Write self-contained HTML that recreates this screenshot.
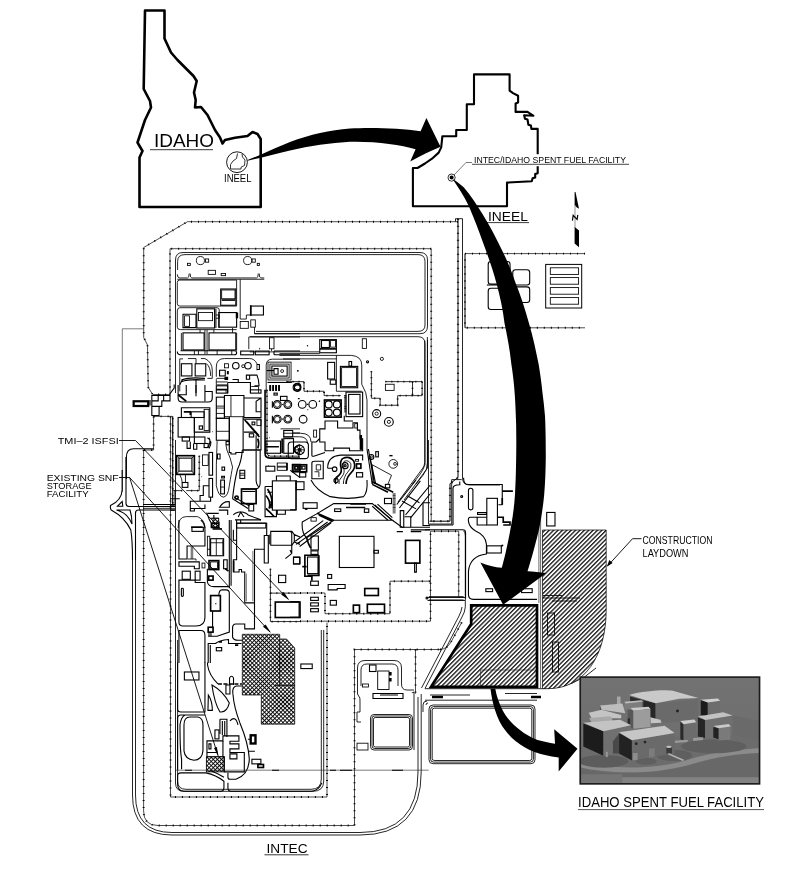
<!DOCTYPE html>
<html><head><meta charset="utf-8"><title>INTEC Idaho Spent Fuel Facility</title>
<style>
html,body{margin:0;padding:0;background:#fff;}
body{width:801px;height:880px;overflow:hidden;font-family:"Liberation Sans",sans-serif;}
svg{display:block;}
.t{font-family:"Liberation Sans",sans-serif;fill:#000;opacity:0.99;}
.ol{fill:none;stroke:#000;stroke-width:2.6;stroke-linejoin:round;}
.l{fill:none;stroke:#000;stroke-width:0.85;}
.l2{fill:none;stroke:#000;stroke-width:1.1;}
.l3{fill:none;stroke:#000;stroke-width:1.65;}
.th{fill:none;stroke:#222;stroke-width:0.6;}
.f{fill:none;stroke:#000;stroke-width:0.8;}
.fd{fill:none;stroke:#000;stroke-width:2;stroke-dasharray:1 6;}
.b{fill:#fff;stroke:#000;stroke-width:0.9;}
.bk{fill:#000;stroke:none;}
</style></head><body>
<svg width="801" height="880" viewBox="0 0 801 880">
<defs>
<pattern id="hat" width="3.1" height="3.1" patternUnits="userSpaceOnUse" patternTransform="rotate(-45)">
<rect width="3.1" height="3.1" fill="#fff"/><line x1="0" y1="0.7" x2="3.1" y2="0.7" stroke="#000" stroke-width="1.2"/>
</pattern>
<pattern id="xhat" width="2.9" height="2.9" patternUnits="userSpaceOnUse" patternTransform="rotate(45)">
<rect width="2.9" height="2.9" fill="#fff"/><path d="M0 0.5H2.9M0.5 0V2.9" stroke="#000" stroke-width="0.92"/>
</pattern>
</defs>
<rect width="801" height="880" fill="#fff"/>

<g id="site">
<path class="f" d="M458 221.7H187.5L143.7 247.5V337.5L147.5 345L148.2 387.3L152.7 394.5H170" style="stroke-width:0.7"/><path class="fd" d="M458 221.7H187.5L143.7 247.5V337.5L147.5 345L148.2 387.3L152.7 394.5H170" style="stroke-width:1.9;stroke-dasharray:1 6"/>
<path class="f" d="M458 218.7V477.5L450 483.7V521.2H429.5" style="stroke-width:1.0"/><path class="fd" d="M458 218.7V477.5L450 483.7V521.2H429.5" style="stroke-width:2.2;stroke-dasharray:1 6"/>
<path class="l" d="M462.5 218.7V478Q462.5 485 470 485H500"/>
<path class="l" d="M455.5 218.7V221.7M455.5 218.7H462.5"/>
<path class="f" d="M170 394.5V248.7H431.2V521.2" style="stroke-width:0.7"/><path class="fd" d="M170 394.5V248.7H431.2V521.2" style="stroke-width:1.9;stroke-dasharray:1 6"/>
<path class="l" d="M183 252.5H420Q427.5 252.5 427.5 260V326Q427.5 333.7 420 333.7H254.5"/>
<path class="l" d="M175.5 393V260Q175.5 252.5 183 252.5"/>
<path class="l" d="M185 254.6H418Q425 254.6 425 261.5V325Q425 331.4 418 331.4H256"/>
<path class="l" d="M177.6 270V261.5Q177.6 254.6 185 254.6"/>
<path class="l" d="M250 336.7H418Q425 336.7 425 344V465L398 502"/>
<path class="l" d="M427.5 340V468L404 500"/>
<path class="th" d="M143.7 328.8H122.3V492"/>
<path class="f" d="M585 253.6H465V327.8H585" style="stroke-width:0.7"/><path class="fd" d="M585 253.6H465V327.8H585" style="stroke-width:1.9;stroke-dasharray:1 6"/>
<path class="l" d="M465 253.6V327.8" style="stroke-width:0.5"/>
</g>
<g id="tA">
<path class="l" d="M177.31 274.37 Q177.31 277.95 179.75 277.95 H187.55 Q189.17 277.95 189.17 273.56 M190.15 273.56 Q190.15 277.95 191.77 277.95 H256.61 Q258.24 277.95 258.24 273.56 M259.21 273.56 Q259.21 277.95 260.84 277.95 H264.25 " />
<path class="l" d="M177.31 279.25 H264.25 " />
<circle class="l" cx="200.39" cy="260.56" r="4.06" />
<rect class="l" x="205.42" y="258.94" width="3.25" height="3.25" rx="0.0" />
<rect class="l" x="187.55" y="263.32" width="2.76" height="2.11" rx="0.0" />
<circle class="l" cx="247.67" cy="260.56" r="4.06" />
<rect class="l" x="252.06" y="258.94" width="3.25" height="3.25" rx="0.0" />
<rect class="l" x="257.26" y="263.32" width="2.11" height="2.11" rx="0.0" />
<rect class="l" x="208.19" y="270.31" width="7.31" height="4.06" rx="0.0" />
<rect class="l" x="221.19" y="273.56" width="4.39" height="2.11" rx="0.0" />
<path class="l" d="M236.62 280.06 V306.06 H179.75 Q177.31 306.06 177.31 303.62 V282.5 Q177.31 280.06 179.75 280.06 Z" />
<rect class="l2" x="220.7" y="289.0" width="15.11" height="16.25" rx="0.0" />
<rect class="l" x="221.67" y="289.97" width="13.32" height="8.77" rx="0.0" />
<path class="l3" d="M221.67 300.05 H235.0 " />
<path class="l" d="M240.2 279.25 V319.06 H246.37 V315.0 H250.44 " />
<rect class="l2" x="250.76" y="306.06" width="12.67" height="8.94" rx="0.0" />
<path class="l3" d="M250.76 305.25 V315.81 " />
<rect class="l" x="240.2" y="321.5" width="8.12" height="6.82" rx="0.0" />
<rect class="l" x="250.76" y="319.87" width="4.55" height="7.31" rx="0.0" />
<path class="l" d="M254.5 327.19 V333.69 H300.0 " />
<path class="l" d="M300.0 336.94 H248.81 V349.12 " />
<path class="l" d="M179.75 307.69 H217.12 Q219.24 307.69 219.24 310.12 V328.0 M177.31 310.94 Q177.31 307.69 179.75 307.69 M177.31 310.94 V327.19 Q177.31 329.62 180.56 329.62 H185.44 " />
<path class="l2" d="M183.0 314.19 H196.0 V327.67 H183.0 Z" />
<rect class="l" x="184.62" y="315.81" width="4.87" height="10.56" rx="0.0" />
<rect class="l2" x="196.81" y="308.82" width="17.87" height="19.17" rx="0.0" />
<rect class="l" x="198.44" y="312.56" width="14.14" height="8.12" rx="0.0" />
<path class="l" d="M214.69 308.82 V328.0 M215.99 308.82 V328.0 " />
<rect class="l2" x="218.75" y="312.56" width="17.87" height="14.62" rx="0.0" />
<path class="l3" d="M236.95 312.56 V318.25 " style="stroke-width:2.4"/>
<path class="l" d="M215.99 315.0 H219.24 V318.25 H215.99 " />
<rect class="l2" x="183.0" y="332.87" width="21.12" height="17.06" rx="0.0" />
<rect class="l2" x="209.0" y="332.87" width="26.81" height="17.06" rx="0.0" />
<path class="l" d="M204.94 329.62 V354.0 M207.05 329.62 V354.0 M185.44 329.62 H236.62 M200.06 329.62 V332.87 M213.87 329.62 V332.87 M232.56 328.0 V332.87 " />
<path class="l2" d="M177.31 351.56 Q177.31 354.81 180.56 354.81 H234.19 Q236.62 354.81 236.62 352.7 Q236.62 350.75 234.19 350.75 H180.56 " />
<path class="l" d="M194.37 350.75 V354.81 M198.44 350.75 V354.81 M217.12 350.75 V354.81 M231.75 350.75 V354.81 " />
<path class="l" d="M181.37 332.87 V350.75 M236.62 332.87 V350.75 " />
<rect class="l2" x="240.69" y="351.07" width="13.0" height="3.74" rx="0.0" />
<rect class="l2" x="255.31" y="351.07" width="13.81" height="3.74" rx="0.0" />
<path class="l2" d="M274.0 351.07 H300.0 M274.0 354.81 H300.0 M274.0 351.07 V354.81 " />
<rect class="l" x="269.45" y="337.75" width="4.55" height="11.05" rx="0.0" />
<path class="l" d="M271.56 348.8 V351.07 " />
<path class="bk" d="M259.05 347.5 L260.35 348.8 L259.37 349.77 Z" />
<path class="l" d="M179.75 358.87 V391.37 M179.75 358.87 H183.0 M187.87 358.55 H196.0 V363.75 M200.87 358.55 H204.94 Q212.25 362.12 212.25 370.25 V378.37 H207.37 " />
<rect class="l2" x="181.37" y="363.75" width="10.56" height="12.19" rx="0.0" />
<rect class="l2" x="195.19" y="363.75" width="10.56" height="12.19" rx="0.0" />
<path class="l" d="M206.56 363.75 Q210.62 367.0 210.62 375.93 " />
<path class="l2" d="M181.37 380.0 Q189.5 376.75 204.94 378.37 M181.37 381.62 Q189.5 378.7 204.94 380.0 M196.0 380.0 V393.0 M179.75 384.87 L182.19 380.0 " />
<path class="l" d="M216.31 376.75 V367.0 Q216.31 358.55 224.44 358.55 H249.62 Q254.5 358.55 256.94 363.75 V370.25 M216.31 378.37 H227.69 " />
<rect class="l" x="224.44" y="363.75" width="4.06" height="4.06" rx="0.0" />
<circle class="l2" cx="235.81" cy="365.7" r="3.25" />
<circle class="l2" cx="248.0" cy="365.7" r="3.25" />
<circle class="l" cx="243.12" cy="366.18" r="1.46" />
<rect class="l2" x="219.56" y="370.25" width="5.69" height="5.69" rx="0.0" />
<rect class="bk" x="226.87" y="371.06" width="1.95" height="3.25" rx="0.0" />
<rect class="bk" x="224.44" y="376.75" width="3.74" height="3.25" rx="0.0" />
<path class="l2" d="M246.37 375.12 H249.62 V379.18 H246.37 ZM249.62 375.12 H256.94 Q259.05 380.0 259.05 385.68 H254.5 M232.56 379.51 H238.25 V382.43 M256.94 364.56 H259.37 V369.43 H256.94 " />
<path class="l" d="M216.31 379.18 V384.87 H227.69 M216.31 381.95 H227.69 " />
<path class="l2" d="M227.69 382.43 H250.44 V393.0 M227.69 382.43 V393.0 " />
<path class="l" d="M216.31 389.75 H226.06 V393.0 M251.25 386.5 H258.56 V393.0 " />
<path class="l" d="M266.2 393.0 V365.37 Q266.2 359.2 272.37 359.2 H300.0 " />
<rect class="l" x="267.99" y="362.12" width="23.07" height="17.87" rx="0.0" />
<rect class="l" x="269.94" y="364.07" width="19.17" height="13.97" rx="0.0" />
<rect class="l2" x="271.88" y="366.02" width="15.27" height="10.07" rx="0.0" />
<path class="l2" d="M274.0 368.62 H278.06 V374.31 H274.0 Z" />
<circle class="l" cx="282.12" cy="371.06" r="1.46" />
<path class="l2" d="M266.69 370.57 H274.0 " />
<rect class="bk" x="269.45" y="385.2" width="1.62" height="5.85" rx="0.0" />
<rect class="bk" x="272.37" y="385.2" width="1.62" height="5.85" rx="0.0" />
<rect class="bk" x="275.3" y="385.2" width="1.62" height="5.85" rx="0.0" />
<rect class="bk" x="278.22" y="385.2" width="1.62" height="5.85" rx="0.0" />
<path class="l2" d="M267.5 382.43 H291.87 " />
<circle class="l2" cx="297.56" cy="388.12" r="3.25" />
<circle class="bk" cx="297.56" cy="370.57" r="0.49" />
</g>
<g id="tB">
<rect class="l2" x="319.75" y="339.63" width="16.63" height="13.13" rx="0.0" />
<rect class="l2" x="321.5" y="340.5" width="7.88" height="7.0" rx="0.0" />
<rect class="l" x="330.6" y="340.5" width="4.9" height="6.65" rx="0.0" />
<path class="l3" d="M319.75 348.9 H336.38 " />
<rect class="l" x="362.28" y="338.75" width="4.2" height="9.63" rx="0.0" />
<circle class="bk" cx="307.5" cy="345.75" r="0.7" />
<path class="l" d="M249.75 351.88 H319.75 M279.5 353.63 H319.75 " />
<path class="l" d="M279.5 355.38 H351.25 Q361.75 356.25 361.75 365.0 V384.25 Q367.0 393.0 367.0 400.0 V449.01 " />
<path class="l" d="M336.38 355.38 V391.25 H361.75 M283.0 358.88 H336.38 " />
<rect class="l2" x="327.63" y="362.38" width="7.0" height="16.63" rx="0.0" />
<rect class="l2" x="330.25" y="379.88" width="5.6" height="4.38" rx="0.0" />
<circle class="bk" cx="297.88" cy="370.78" r="0.88" />
<rect class="l2" x="340.4" y="366.4" width="17.33" height="21.35" rx="0.0" />
<rect class="l" x="341.63" y="367.63" width="14.88" height="18.9" rx="0.0" />
<rect class="l2" x="348.98" y="361.5" width="2.63" height="4.55" rx="0.0" />
<rect class="l2" x="346.0" y="392.13" width="16.63" height="24.5" rx="0.0" />
<rect class="l2" x="348.63" y="394.4" width="11.38" height="19.6" rx="0.0" />
<path class="l3" d="M345.3 395.1 V412.25 " style="stroke-width:2.6;stroke-dasharray:0.6 0.5"/>
<rect class="l3" x="324.48" y="400.0" width="16.63" height="17.15" rx="0.0" />
<circle class="l2" cx="328.68" cy="404.38" r="3.5" />
<circle class="l2" cx="336.9" cy="404.38" r="3.5" />
<circle class="l2" cx="328.68" cy="412.6" r="3.5" />
<circle class="l2" cx="336.9" cy="412.6" r="3.5" />
<circle class="l2" cx="296.65" cy="387.4" r="3.5" />
<circle class="l2" cx="302.25" cy="404.38" r="3.85" />
<circle class="l2" cx="312.75" cy="404.38" r="3.85" />
<circle class="l2" cx="303.13" cy="419.25" r="3.85" />
<path class="l2" d="M306.98 404.38 H308.2 M318.88 401.75 L319.93 400.7 M297.88 398.6 H299.63 M307.5 409.63 H308.2 " />
<path class="f" d="M286.5 381.63 H304.0 V391.25 H324.13 V395.63 H340.75 " />
<path class="fd" d="M286.5 381.63 H304.0 V391.25 H324.13 V395.63 H340.75 " style="stroke-width:1.8;stroke-dasharray:1 5"/>
<path class="l2" d="M319.75 428.88 H325.0 V421.0 H337.6 V428.0 H353.0 V422.75 H357.38 V430.11 H360.0 V438.86 H362.63 V450.76 H349.5 V448.13 H333.75 V450.76 H325.0 V442.01 H319.75 Z" />
<path class="l3" d="M360.88 435.01 V449.88 " style="stroke-width:2.4"/>
<rect class="l" x="313.63" y="430.11" width="2.98" height="7.0" rx="0.0" />
<path class="l2" d="M344.25 415.75 V421.0 H353.0 " />
<rect class="l" x="354.75" y="423.63" width="2.63" height="4.38" rx="0.0" />
<path class="l2" d="M319.75 438.51 L316.25 442.01 H311.88 V455.13 Q311.88 456.88 314.5 456.01 L325.0 452.51 " />
<path class="f" d="M371.38 371.13 V398.25 H380.13 V405.25 H397.63 V395.63 H422.13 M385.38 381.63 H422.13 M412.51 381.63 V395.63 M422.13 381.63 V395.63 " />
<path class="fd" d="M371.38 371.13 V398.25 H380.13 V405.25 H397.63 V395.63 H422.13 M385.38 381.63 H422.13 M412.51 381.63 V395.63 M422.13 381.63 V395.63 " style="stroke-width:1.8;stroke-dasharray:1 5"/>
<rect class="l" x="385.38" y="384.25" width="8.75" height="6.13" rx="0.0" />
<circle class="l2" cx="376.63" cy="413.65" r="4.03" />
<circle class="l" cx="376.63" cy="413.65" r="1.58" />
<circle class="l2" cx="388.88" cy="421.88" r="4.38" />
<circle class="l" cx="388.88" cy="421.88" r="1.58" />
<circle class="l" cx="393.26" cy="463.88" r="4.38" />
<circle class="l" cx="395.01" cy="463.88" r="1.4" />
<rect class="bk" x="389.4" y="454.96" width="3.15" height="1.4" rx="0.0" />
<circle class="l2" cx="367.53" cy="361.85" r="1.05" />
<circle class="l" cx="381.88" cy="358.88" r="1.58" />
<rect class="l2" x="375.75" y="451.63" width="2.63" height="5.25" rx="0.0" />
<circle class="l2" cx="371.38" cy="456.88" r="2.45" />
<circle class="l" cx="371.38" cy="456.88" r="1.05" />
<path class="l2" d="M367.0 449.01 L372.25 484.01 M368.4 449.01 L374.35 484.01 M369.8 456.01 L375.75 484.01 " />
<path class="l" d="M372.25 464.76 L391.51 475.26 L388.0 484.01 M372.25 464.76 V484.01 " />
<path class="l" d="M427.38 337.0 V463.01 Q427.38 470.01 423.01 475.26 L416.01 484.01 M424.76 340.5 V462.13 Q424.76 468.26 420.38 473.86 L412.51 484.01 " />
<path class="l" d="M283.0 433.26 H300.5 Q311.0 433.26 311.0 442.01 M283.0 436.76 H299.63 Q307.5 436.76 307.5 443.76 " />
<rect class="l2" x="288.25" y="442.01" width="20.13" height="16.63" rx="3.15" />
<circle class="l2" cx="299.63" cy="449.88" r="4.73" />
<circle class="l2" cx="299.63" cy="449.88" r="1.4" />
<path class="l" d="M299.63 445.16 V454.61 M294.9 449.88 H304.35 M296.3 446.56 L302.95 453.21 M302.95 446.56 L296.3 453.21 " />
<rect class="l3" x="292.63" y="464.76" width="14.0" height="7.0" rx="0.0" />
<rect class="l2" x="294.38" y="466.16" width="2.98" height="2.98" rx="0.0" />
<rect class="l2" x="298.23" y="466.16" width="2.98" height="2.98" rx="0.0" />
<rect class="l2" x="302.08" y="466.16" width="2.98" height="2.98" rx="0.0" />
<rect class="l2" x="299.63" y="472.63" width="6.13" height="4.38" rx="0.0" />
<path class="l2" d="M311.88 463.01 Q311.88 461.26 314.5 461.26 H323.25 V478.76 H311.88 Z" />
<path class="l" d="M316.25 464.76 H320.63 V470.01 H316.25 ZM314.5 471.76 H318.88 V477.01 " />
<path class="l2" d="M327.63 468.26 Q327.63 456.01 340.75 455.13 H362.63 V460.38 M327.63 468.26 H332.0 " />
<path class="l3" d="M342.5 458.63 Q349.5 455.13 353.88 461.26 Q356.5 468.26 350.38 473.51 Q346.0 478.76 346.0 484.01 M335.85 484.01 Q333.75 478.76 339.0 475.26 Q342.5 471.76 340.75 466.51 Q339.88 461.26 342.5 458.63 " />
<path class="l" d="M344.25 461.26 Q348.63 459.51 350.9 463.88 Q352.13 468.26 347.75 472.11 Q343.38 477.01 343.38 484.01 M339.0 484.01 Q338.13 480.51 341.63 477.01 Q345.65 472.63 343.38 467.38 Q342.5 463.01 344.25 461.26 " />
<circle class="l2" cx="345.13" cy="465.63" r="2.98" />
<circle class="l2" cx="345.13" cy="465.63" r="1.05" />
<circle class="l2" cx="334.63" cy="469.13" r="2.28" />
<circle class="l2" cx="336.03" cy="480.51" r="2.1" />
<rect class="l3" x="356.5" y="463.88" width="4.38" height="4.38" rx="0.0" />
<rect class="l2" x="356.5" y="472.63" width="6.13" height="4.38" rx="0.0" />
<rect class="l" x="355.63" y="459.51" width="2.98" height="1.75" rx="0.0" />
</g>
<g id="tC">
<path class="l2" d="M178.12 385.0 V398.0 Q178.12 402.06 182.19 402.06 H208.19 Q212.25 402.06 212.25 398.0 V391.5 H204.94 V385.0 M186.25 385.0 V394.75 H178.12 M196.0 385.0 V396.37 M204.94 391.5 V401.25 " />
<path class="l3" d="M178.12 394.75 L186.25 401.25 " />
<rect class="l2" x="216.31" y="385.81" width="11.37" height="7.31" rx="0.0" />
<path class="l3" d="M216.31 389.55 H227.69 " />
<rect class="l2" x="250.44" y="389.87" width="10.56" height="3.25" rx="0.0" />
<path class="l2" d="M181.37 407.75 H209.81 V432.12 H194.37 V417.5 H181.37 Z" />
<rect class="l2" x="178.12" y="417.5" width="16.25" height="19.5" rx="0.0" />
<rect class="l2" x="191.12" y="411.81" width="13.0" height="5.69" rx="0.0" />
<rect class="l" x="204.12" y="409.37" width="4.87" height="21.12" rx="0.0" />
<rect class="l2" x="199.25" y="425.95" width="3.25" height="3.25" rx="0.0" />
<path class="l3" d="M183.81 411.81 L190.31 411.81 L190.31 415.06 " />
<rect class="l2" x="182.19" y="437.0" width="7.31" height="4.06" rx="0.0" />
<rect class="l2" x="194.37" y="437.0" width="10.56" height="6.5" rx="0.0" />
<path class="l2" d="M207.37 437.81 Q213.55 441.06 209.0 448.37 M209.0 437.81 Q211.44 441.87 207.7 447.56 M187.06 441.87 V448.37 H190.31 V441.87 M193.56 443.5 V449.19 H196.81 V443.5 " />
<rect class="l2" x="204.12" y="443.5" width="4.06" height="4.06" rx="0.0" />
<circle class="bk" cx="212.57" cy="431.8" r="0.49" />
<rect class="l2" x="216.31" y="397.19" width="8.12" height="21.12" rx="0.0" />
<path class="l" d="M216.31 406.12 H224.44 M216.31 408.07 H224.44 M216.31 413.44 H224.44 " />
<path class="l2" d="M224.44 395.56 H243.94 V416.69 H243.12 V452.44 H235.81 V454.06 H230.94 V452.44 H229.31 V416.69 H224.44 Z" />
<path class="l" d="M230.94 395.56 V416.69 M229.31 416.69 H243.94 " />
<path class="l2" d="M243.94 398.0 H261.0 V417.5 H243.94 M261.0 398.0 L256.12 401.25 V411.81 H261.0 " />
<rect class="l2" x="216.31" y="418.31" width="13.0" height="21.94" rx="0.0" />
<path class="l" d="M216.31 431.31 H229.31 " />
<rect class="l2" x="226.06" y="441.55" width="3.25" height="3.25" rx="0.0" />
<path class="l2" d="M243.12 419.12 H261.0 V450.0 H243.12 M243.94 432.12 H256.12 M256.12 435.37 V450.0 " />
<path class="l3" d="M244.75 419.94 L259.37 437.0 M246.37 421.56 L258.56 435.37 M248.0 423.19 L251.25 427.25 " />
<rect class="l2" x="252.06" y="422.05" width="2.76" height="2.76" rx="0.0" />
<rect class="l2" x="249.3" y="433.75" width="4.39" height="3.25" rx="0.0" />
<rect class="l" x="256.94" y="419.94" width="4.06" height="5.69" rx="0.0" />
<path class="l3" d="M257.75 438.62 Q259.7 443.5 257.75 448.37 " />
<path class="l" d="M217.12 441.06 Q215.99 466.25 216.31 485.75 Q218.75 497.12 223.62 497.12 Q228.17 496.31 229.31 485.75 Q231.42 472.75 232.56 467.06 Q230.45 457.31 226.87 450.0 L226.06 445.12 " />
<rect class="l2" x="217.45" y="454.06" width="2.6" height="4.87" rx="0.0" />
<rect class="l2" x="222.0" y="467.06" width="2.6" height="3.25" rx="0.0" />
<rect class="l2" x="220.7" y="480.06" width="3.74" height="13.81" rx="0.0" />
<path class="l" d="M220.7 487.05 H224.44 " />
<rect class="l2" x="221.67" y="476.32" width="2.76" height="1.62" rx="0.0" />
<path class="l2" d="M242.31 450.0 H260.19 V482.5 Q260.19 488.18 256.12 489.0 H242.31 M242.31 450.0 Q241.5 461.37 237.44 469.5 Q234.19 482.5 232.56 498.75 M256.12 450.81 V480.87 Q256.94 485.75 258.56 486.56 " />
<rect class="l2" x="239.87" y="470.31" width="4.87" height="8.12" rx="0.0" />
<path class="l" d="M239.87 473.24 H244.75 M239.87 475.19 H244.75 " />
<rect class="l3" x="241.5" y="489.0" width="14.62" height="14.62" rx="0.0" />
<path class="l2" d="M242.31 491.43 H255.31 " />
<circle class="l3" cx="236.62" cy="497.61" r="1.62" />
<rect class="l2" x="248.81" y="504.43" width="4.87" height="6.5" rx="0.0" />
<path class="l2" d="M232.56 498.75 L248.0 508.5 M234.19 497.12 L249.62 506.06 " />
<rect class="l3" x="176.5" y="455.69" width="17.87" height="18.69" rx="0.0" />
<rect class="l2" x="178.94" y="458.12" width="13.0" height="13.0" rx="0.0" />
<path class="l" d="M176.5 455.69 L178.94 458.12 M194.37 455.69 L191.94 458.12 M176.5 474.37 L178.94 471.12 M194.37 474.37 L191.94 471.12 " />
<rect class="l" x="202.5" y="454.87" width="5.69" height="10.56" rx="0.0" />
<rect class="l2" x="209.0" y="452.44" width="3.57" height="22.75" rx="0.0" />
<rect class="l2" x="209.0" y="478.44" width="3.57" height="18.69" rx="0.0" />
<path class="f" d="M199.25 455.69 V490.62 H186.25 M182.19 490.62 H173.25 " />
<path class="fd" d="M199.25 455.69 V490.62 H186.25 M182.19 490.62 H173.25 " style="stroke-width:1.8;stroke-dasharray:1 5"/>
<rect class="l2" x="182.19" y="482.5" width="5.69" height="4.87" rx="0.0" />
<path class="l" d="M185.44 474.37 V482.5 M179.75 474.37 Q182.19 479.25 182.19 482.5 " />
<circle class="bk" cx="201.69" cy="476.81" r="0.49" />
<path class="l2" d="M200.06 501.18 V495.5 H203.31 V485.75 H209.0 M210.62 497.12 V501.18 H190.31 V508.5 H204.94 V504.43 M190.31 508.5 V510.93 H194.37 V508.5 " />
<path class="l2" d="M219.56 507.2 Q223.62 500.86 229.31 501.67 V507.2 Z" />
<path class="l2" d="M218.75 510.12 H227.69 V515.0 " />
<path class="l3" d="M265.06 389.87 V453.25 Q265.06 458.12 269.94 458.12 H300.0 " />
<path class="f" d="M267.01 389.87 V452.44 Q267.01 456.17 270.42 456.17 H300.0 " />
<path class="fd" d="M267.01 389.87 V452.44 Q267.01 456.17 270.42 456.17 H300.0 " style="stroke-width:1.8;stroke-dasharray:1 5"/>
<circle class="l2" cx="277.25" cy="404.5" r="3.9" />
<circle class="l" cx="277.25" cy="404.5" r="2.76" />
<circle class="l2" cx="287.81" cy="404.5" r="3.9" />
<circle class="l" cx="287.81" cy="404.5" r="2.76" />
<circle class="l2" cx="277.25" cy="419.12" r="3.9" />
<circle class="l" cx="277.25" cy="419.12" r="2.76" />
<circle class="l2" cx="287.81" cy="419.12" r="3.9" />
<circle class="l" cx="287.81" cy="419.12" r="2.76" />
<rect class="l2" x="280.5" y="396.37" width="6.5" height="4.06" rx="0.0" />
<rect class="l2" x="274.0" y="393.12" width="3.25" height="1.95" rx="0.0" />
<path class="l2" d="M282.12 404.5 H283.26 M282.12 419.12 H283.26 M272.37 401.25 V407.75 M272.37 415.87 V423.19 " />
<rect class="bk" x="269.45" y="385.0" width="1.62" height="5.69" rx="0.0" />
<rect class="bk" x="272.37" y="385.0" width="1.62" height="5.69" rx="0.0" />
<rect class="bk" x="275.3" y="385.0" width="1.62" height="5.69" rx="0.0" />
<rect class="bk" x="278.22" y="385.0" width="1.62" height="5.69" rx="0.0" />
<circle class="l2" cx="297.56" cy="386.62" r="3.25" />
<rect class="l2" x="283.75" y="430.5" width="8.94" height="6.5" rx="0.0" />
<path class="l" d="M280.5 428.87 H300.0 M292.68 432.94 H300.0 " />
<rect class="l2" x="265.87" y="441.06" width="14.62" height="12.19" rx="0.0" />
<rect class="l2" x="283.75" y="438.62" width="9.75" height="14.62" rx="0.0" />
<path class="l3" d="M265.87 446.75 H278.87 M282.12 438.62 V453.25 " />
<path class="l3" d="M300.0 445.12 Q294.31 445.94 294.31 450.0 Q294.31 453.25 300.0 453.25 " />
<circle class="bk" cx="269.45" cy="437.81" r="0.49" />
<rect class="l2" x="265.87" y="466.25" width="8.94" height="4.87" rx="0.0" />
<rect class="l" x="277.25" y="463.0" width="9.75" height="3.25" rx="0.0" />
<rect class="l" x="277.25" y="467.06" width="9.75" height="3.25" rx="0.0" />
<rect class="l3" x="292.68" y="464.62" width="7.31" height="6.5" rx="0.0" />
<rect class="l2" x="295.12" y="466.25" width="4.06" height="3.57" rx="0.0" />
<path class="l3" d="M287.0 463.0 V470.31 " />
<circle class="bk" cx="268.31" cy="465.44" r="0.49" />
<path class="l2" d="M290.25 470.31 L300.0 477.62 " />
<rect class="l2" x="272.37" y="480.87" width="23.56" height="29.25" rx="0.0" />
<path class="l2" d="M276.43 480.87 V476.0 H290.25 V480.87 M277.25 510.12 V514.18 H285.37 V510.12 " />
<path class="l2" d="M265.06 486.56 H272.37 M265.06 486.56 V516.62 H276.43 V510.12 M267.5 492.25 H272.37 " />
<path class="l3" d="M265.87 495.5 Q271.56 502.0 269.12 508.5 M265.87 508.5 Q271.56 513.37 274.0 516.62 M267.5 489.0 Q274.0 498.75 270.75 506.87 " />
<rect class="l2" x="269.45" y="502.0" width="2.6" height="5.69" rx="0.0" />
<rect class="l2" x="236.62" y="523.12" width="29.25" height="4.87" rx="0.0" />
<path class="l2" d="M233.37 515.0 Q235.0 512.56 240.69 511.75 Q246.37 512.56 248.0 515.0 M238.25 516.95 L240.69 512.07 L243.94 516.95 M235.0 519.87 H261.0 " />
<path class="l2" d="M248.0 515.0 L261.0 519.87 " />
<path class="l" d="M178.12 528.0 Q178.12 516.62 186.25 516.62 H197.62 Q204.94 519.87 204.94 528.0 " />
<path class="l3" d="M191.12 527.18 H202.5 " />
<path class="l2" d="M206.56 512.56 Q209.0 519.87 212.25 524.75 M207.7 513.37 H218.75 M213.87 515.0 V526.37 M210.3 518.25 H218.75 M212.25 522.31 H219.56 " />
<rect class="l" x="213.06" y="518.25" width="5.69" height="6.5" rx="0.0" style="fill:url(#xhat)"/>
<path class="l2" d="M170.0 498.75 H179.75 M170.0 505.25 H174.87 M170.0 510.12 H174.87 " />
</g>
<g id="tD">
<path class="l2" d="M178.94 520.0 V559.0 H187.06 V546.0 H204.94 V529.75 Q204.94 523.25 200.87 520.0 " />
<rect class="l2" x="191.94" y="527.31" width="11.37" height="4.06" rx="0.0" />
<path class="l3" d="M191.94 546.81 V559.0 " style="stroke-width:2.6;stroke-dasharray:0.5 0.5"/>
<path class="l" d="M187.87 559.0 H196.0 V560.62 " />
<path class="l2" d="M178.94 561.92 H199.25 V568.75 H194.37 V566.31 H178.94 Z" />
<rect class="l2" x="182.19" y="571.19" width="8.12" height="8.12" rx="0.0" />
<rect class="l2" x="195.19" y="571.19" width="4.87" height="8.94" rx="0.0" />
<rect class="l" x="202.01" y="563.06" width="2.92" height="4.87" rx="0.0" />
<path class="l2" d="M178.94 580.12 H195.19 V582.56 H204.94 V617.5 Q204.94 625.95 196.0 625.95 H182.19 Q178.94 625.95 178.94 622.37 Z" />
<rect class="l2" x="181.37" y="588.25" width="1.95" height="8.12" rx="0.81" />
<path class="l2" d="M178.94 630.5 H200.87 Q204.94 630.5 204.94 635.37 V663.0 M178.94 630.5 V663.0 " />
<rect class="l" x="207.37" y="536.25" width="2.44" height="19.5" rx="0.0" />
<rect class="l2" x="210.62" y="538.69" width="13.0" height="17.06" rx="0.0" />
<path class="l" d="M210.62 542.75 H223.62 M216.31 538.69 V555.75 M222.81 539.5 V554.94 " />
<path class="l" d="M207.37 549.25 H210.62 " />
<rect class="l3" x="209.0" y="560.62" width="9.75" height="8.94" rx="0.0" />
<rect class="l" x="210.62" y="561.92" width="6.82" height="6.5" rx="0.0" />
<rect class="l2" x="223.62" y="559.81" width="3.57" height="8.94" rx="0.0" />
<path class="l3" d="M225.25 568.75 L228.5 571.19 " />
<rect class="l3" x="208.67" y="576.06" width="4.39" height="4.06" rx="0.0" />
<path class="l2" d="M207.37 568.75 V581.75 Q208.19 586.62 213.87 586.62 H229.31 " />
<path class="l2" d="M218.75 596.37 Q218.75 589.87 222.0 589.87 H226.06 Q229.31 589.87 229.31 593.12 V632.12 L217.12 636.18 H208.19 " />
<rect class="l3" x="210.62" y="595.56" width="9.75" height="15.44" rx="0.0" />
<circle class="bk" cx="215.82" cy="603.69" r="0.65" />
<path class="l2" d="M212.57 611.0 V627.25 " />
<rect class="l3" x="208.19" y="627.25" width="4.87" height="4.87" rx="0.0" />
<path class="l2" d="M209.0 632.12 V636.18 M210.95 632.12 V636.18 " />
<path class="l2" d="M229.31 520.0 V588.25 M231.1 520.0 V585.81 " />
<path class="l2" d="M236.62 523.25 H266.69 V535.44 H264.25 V549.25 H254.5 V628.87 H244.75 V624.0 H235.81 Q232.56 624.0 232.56 628.06 V637.0 Q233.37 640.25 238.25 640.25 H242.31 M236.62 523.25 V559.81 H233.37 V572.0 H239.06 V569.56 H241.5 V572.0 H244.75 V602.87 H254.5 " />
<path class="l2" d="M264.25 535.44 H268.31 V563.06 H264.25 V549.25 M236.62 520.0 V523.25 M240.69 520.0 V523.25 M233.37 529.75 V540.31 H236.62 " />
<path class="l3" d="M233.7 560.62 V571.67 " />
<path class="th" d="M246.37 573.62 V601.25 M252.87 550.87 V601.25 " />
<path class="l2" d="M270.75 531.37 H291.87 L294.31 534.62 V541.94 L291.87 545.19 H270.75 ZM294.31 534.62 L300.0 537.06 M294.31 541.94 L300.0 544.37 " />
<path class="l" d="M269.45 534.62 V544.37 " />
<path class="l2" d="M285.37 558.67 L291.87 553.31 M295.93 544.37 L300.0 541.94 " />
<rect class="l2" x="293.5" y="557.37" width="6.5" height="6.5" rx="0.0" />
<rect class="l2" x="278.55" y="575.25" width="7.15" height="7.31" rx="0.0" />
<path class="f" d="M270.42 568.75 V621.56 H300.0 M270.42 593.12 H300.0 " />
<path class="fd" d="M270.42 568.75 V621.56 H300.0 M270.42 593.12 H300.0 " style="stroke-width:1.8;stroke-dasharray:1 5"/>
<rect class="l3" x="275.3" y="602.06" width="24.7" height="15.44" rx="0.0" />
<path class="l2" d="M208.19 663.0 V643.5 H215.5 Q218.75 640.25 228.5 639.43 V643.5 H241.5 M210.3 645.12 V663.0 " />
<rect class="l2" x="216.31" y="647.56" width="5.36" height="3.25" rx="0.0" />
<path class="l3" d="M218.75 641.87 H222.0 M235.0 645.12 H238.25 " />
<path class="l3" d="M211.44 523.25 H218.75 V527.31 H211.44 Z" style="fill:url(#xhat)"/>
<path class="l3" d="M212.57 528.94 H222.0 " />
</g>
<g id="tE">
<path class="l2" d="M311.0 480.0 Q316.25 490.5 330.25 496.63 Q347.75 500.13 363.5 496.63 Q367.88 492.25 367.0 480.0 " />
<path class="l2" d="M290.0 509.75 H296.13 V480.0 " />
<rect class="l2" x="296.13" y="481.75" width="7.88" height="7.88" rx="0.0" />
<rect class="l2" x="303.13" y="502.75" width="14.0" height="5.6" rx="0.0" />
<path class="l3" d="M304.88 509.05 H307.5 " />
<path class="l2" d="M302.25 522.0 L316.25 514.13 L333.75 503.63 H372.25 L392.38 520.25 H333.75 L306.63 537.75 Q301.38 532.5 302.25 522.0 Z" />
<path class="l3" d="M317.13 513.25 L333.75 520.6 M318.88 515.0 L332.0 521.3 " />
<path class="l2" d="M297.0 543.88 L327.63 522.0 M295.25 541.25 L323.25 520.6 M299.63 546.5 L331.13 522.88 " />
<rect class="l2" x="334.63" y="508.88" width="6.13" height="2.63" rx="0.0" />
<rect class="l2" x="364.38" y="508.88" width="4.38" height="3.5" rx="0.0" />
<rect class="l" x="311.0" y="517.63" width="5.25" height="3.5" rx="0.0" />
<path class="l3" d="M346.0 507.48 H365.25 M350.38 503.98 H366.13 " />
<path class="l2" d="M372.25 506.25 L388.0 520.25 M374.88 505.03 L391.16 519.55 M377.5 504.15 L392.38 517.63 " />
<path class="l3" d="M394.13 493.13 V513.25 " style="stroke-width:3;stroke-dasharray:0.5 0.4"/>
<rect class="l2" x="384.5" y="498.38" width="7.0" height="5.25" rx="0.0" />
<path class="l3" d="M372.25 481.75 L393.26 492.25 M372.25 484.38 L388.0 492.25 " />
<rect class="l2" x="385.38" y="484.38" width="4.38" height="3.5" rx="0.0" />
<path class="l2" d="M396.76 504.5 L416.01 480.0 M399.38 508.0 L420.38 480.88 M410.76 517.63 L430.01 494.0 M405.51 515.0 L430.01 485.25 M402.01 501.0 L416.01 508.88 M407.26 495.75 L419.51 502.75 " />
<path class="l2" d="M400.26 510.63 H403.76 V527.25 H400.26 ZM404.63 516.75 H410.76 V527.25 " />
<path class="l2" d="M392.38 520.25 L402.01 527.25 H430.01 M410.76 529.88 H430.01 M396.76 531.63 H402.88 M410.76 531.63 H421.26 " />
<path class="l2" d="M423.01 502.75 H430.01 M423.01 502.75 V525.5 H430.01 " />
<rect class="l2" x="339.35" y="536.35" width="34.65" height="31.15" rx="0.0" />
<rect class="l2" x="374.0" y="550.35" width="4.38" height="2.8" rx="0.0" />
<rect class="l3" x="405.51" y="540.38" width="14.35" height="22.75" rx="0.0" />
<rect class="l2" x="414.61" y="563.13" width="1.75" height="9.1" rx="0.0" />
<rect class="l2" x="311.0" y="536.0" width="7.35" height="14.0" rx="0.0" />
<rect class="l2" x="311.0" y="550.88" width="7.0" height="3.5" rx="0.0" />
<path class="l3" d="M306.63 537.75 Q308.38 544.75 311.0 548.25 " />
<path class="l3" d="M318.88 555.25 H304.88 V576.25 H311.88 V580.63 M318.88 555.25 V575.38 H307.5 " />
<rect class="l2" x="307.5" y="557.0" width="10.5" height="16.63" rx="0.0" />
<path class="l3" d="M302.25 566.63 H306.63 " />
<rect class="l2" x="293.5" y="557.0" width="6.13" height="7.0" rx="0.0" />
<rect class="l2" x="310.65" y="581.16" width="7.7" height="4.2" rx="0.0" />
<rect class="l2" x="327.63" y="574.5" width="4.03" height="3.85" rx="0.0" />
<path class="l2" d="M328.15 584.48 H345.13 V588.51 H337.25 V589.91 H328.15 Z" />
<rect class="l3" x="364.73" y="588.51" width="13.65" height="7.0" rx="0.0" />
<rect class="l2" x="330.25" y="600.41" width="6.13" height="4.73" rx="0.0" />
<rect class="l3" x="353.35" y="605.13" width="6.13" height="7.53" rx="0.0" />
<rect class="l3" x="367.35" y="604.26" width="17.15" height="8.4" rx="0.0" />
<rect class="l2" x="310.65" y="597.26" width="7.7" height="3.15" rx="0.0" />
<rect class="l2" x="310.65" y="602.86" width="7.7" height="3.15" rx="0.0" />
<rect class="l2" x="310.65" y="608.63" width="7.7" height="3.15" rx="0.0" />
<path class="l2" d="M290.0 601.63 H299.1 V617.38 H290.0 " />
<path class="l2" d="M290.0 550.0 L291.75 553.5 V532.5 L290.0 531.63 " />
</g>
<g id="tF">
<path class="l2" d="M177.59 662.59 V708.94 Q177.59 711.93 180.99 711.93 H204.96 V662.59 " />
<rect class="l2" x="184.38" y="671.98" width="14.58" height="7.99" rx="0.0" />
<path class="l2" d="M207.55 662.59 V664.99 Q208.95 674.98 217.94 683.97 " />
<path class="l3" d="M217.94 683.97 H241.91 " style="stroke-dasharray:4 1.5"/>
<path class="l2" d="M211.95 684.96 Q222.94 690.96 229.33 702.94 Q226.93 712.93 219.94 711.93 Q214.35 702.94 211.95 684.96 Z" />
<path class="l2" d="M208.35 694.95 Q212.35 700.94 212.35 710.33 H207.95 Z" />
<path class="l2" d="M229.53 684.96 V677.97 Q231.53 674.58 233.52 677.97 V684.96 M225.93 684.96 H229.93 V693.95 H225.93 Z" />
<path class="l2" d="M232.92 693.95 Q231.93 686.96 236.32 685.96 H241.91 M232.92 693.95 Q233.92 706.94 239.92 722.92 Q248.31 742.89 249.3 758.88 Q248.91 774.86 235.92 779.25 H229.93 Q227.93 779.25 227.93 777.25 V772.86 " />
<path class="l2" d="M229.93 720.92 Q235.92 714.93 237.92 724.92 " />
<path class="l2" d="M180.99 714.93 H204.96 M180.99 714.93 Q177.59 714.93 177.59 718.52 V769.86 M181.59 769.26 V758.88 Q179.99 750.88 179.99 724.92 Q180.99 716.93 184.98 714.93 " />
<path class="l2" d="M183.98 724.92 Q183.98 716.93 189.98 716.93 H197.97 Q202.96 717.92 202.96 724.92 V750.88 Q201.96 760.27 193.97 760.27 Q184.98 759.27 183.98 750.88 Z" />
<path class="l2" d="M219.94 719.32 H226.93 V736.9 M219.94 719.32 V733.91 M222.34 720.92 V734.9 M224.73 720.92 V735.9 " />
<rect class="l2" x="214.95" y="729.91" width="4.0" height="8.99" rx="0.0" />
<path class="l2" d="M206.96 740.9 H222.94 V735.9 H238.92 V741.3 H229.93 V743.89 H238.92 V748.89 H229.93 V752.48 H244.31 V771.86 H224.33 V756.88 H206.96 Z" />
<path class="l2" d="M222.94 740.9 V756.88 M229.93 753.88 H236.92 V758.88 H229.93 ZM206.96 752.48 H216.94 " />
<rect class="l" x="206.36" y="756.88" width="17.58" height="14.98" rx="0.0" style="fill:url(#xhat)"/>
<rect class="l3" x="250.7" y="735.3" width="4.79" height="8.19" rx="0.0" style="stroke-width:2.4"/>
<path class="l2" d="M247.91 739.3 H250.7 M248.31 751.28 H254.9 " />
<rect class="l2" x="251.9" y="759.27" width="8.99" height="4.59" rx="0.0" />
<rect class="l3" x="257.89" y="764.47" width="5.59" height="3.0" rx="0.0" />
<path class="l2" d="M208.95 743.89 H210.95 V748.89 H208.95 Z" />
<path class="l2" d="M180.99 772.86 H205.96 Q215.94 774.86 223.94 781.25 V787.24 Q223.94 791.24 220.94 791.24 H183.98 Q177.59 791.24 177.59 783.85 V775.85 Q177.59 772.86 180.99 772.86 Z" />
<path class="l2" d="M227.93 782.85 V787.84 Q227.93 791.24 230.93 791.24 H311.83 Q318.82 790.44 321.82 782.85 " />
<path class="l2" d="M209.95 770.46 Q216.94 772.86 223.94 777.25 " />
<rect class="l2" x="300.84" y="663.99" width="11.39" height="4.59" rx="0.0" />
</g>
<g id="tH">
<path class="l2" d="M151.82 395.45 H170.0 V400.91 H161.82 V406.36 H159.09 V415.45 H151.82 ZM158.18 395.45 V400.91 H151.82 M163.64 395.45 V400.91 M151.82 406.36 H159.09 M150.0 400.0 V405.45 " />
<path class="l2" d="M170.0 393.64 L174.18 388.18 V384.55 " />
<rect class="l3" x="133.64" y="401.27" width="14.55" height="4.73" rx="0.0" style="stroke-width:2.2"/>
<path class="l2" d="M126.36 479.09 V457.27 Q126.36 448.73 133.64 448.73 H153.64 " />
<path class="l2" d="M122.2 470.0 V490.0 Q121.5 500.5 110.5 505.5 Q110.0 508.0 111.2 510.0 Q125.0 517.5 130.8 530.0 Q132.5 540.0 132.5 560.0 " />
<path class="l2" d="M126.0 457.0 V503.5 Q126.2 506.5 129.0 506.5 H175.0 M117.5 506.2 L122.2 501.5 L122.8 506.2 Z" />
<path class="l2" d="M116.5 510.0 H130.0 Q132.0 516.0 132.0 524.0 Q128.0 514.0 120.0 511.2 Z" />
<path class="l2" d="M135.5 560.0 V513.0 Q135.5 510.0 138.5 510.0 H175.0 M143.0 504.5 H175.0 " />
<path class="l" d="M143.0 508.3 H175.0 " />
<path class="l" d="M172.73 416.36 V504.55 M174.91 490.0 V504.91 " />
</g>
<g id="tG">
<path class="l" d="M428.48 440.0 V524.03 H451.66 V479.6 H461.7 " />
<path class="l2" d="M463.63 477.67 V478.63 Q463.63 484.43 468.46 484.43 H502.26 V491.19 M502.26 504.71 V491.19 M502.26 504.71 H498.4 " />
<path class="l3" d="M502.26 491.19 H512.89 M502.26 497.95 V504.71 " />
<path class="l2" d="M459.77 481.53 V484.81 Q453.01 484.81 453.01 488.29 V524.99 M425.0 529.82 H462.67 Q465.56 529.82 465.56 532.72 V598.39 M453.01 524.99 H428.48 " />
<rect class="l2" x="468.46" y="488.29" width="4.44" height="21.63" rx="2.12" />
<circle class="l2" cx="461.7" cy="496.4" r="0.97" />
<rect class="l2" x="486.81" y="498.33" width="10.62" height="26.66" rx="0.0" />
<path class="l2" d="M486.81 517.26 H477.15 V524.99 H486.81 M477.54 512.44 H486.43 V514.37 H477.54 Z" />
<path class="l3" d="M497.44 517.26 H503.23 V522.09 H509.99 V524.99 H503.23 " />
<path class="l2" d="M477.15 517.26 H470.39 Q467.88 517.26 468.46 521.13 Q469.04 526.92 475.22 530.79 Q485.85 535.62 486.43 544.31 V553.97 Q469.81 555.9 468.46 571.35 V594.53 Q468.46 599.36 473.29 599.36 H537.03 " />
<rect class="l2" x="486.81" y="545.85" width="14.49" height="7.15" rx="0.0" />
<path class="l3" d="M501.3 545.85 L503.23 545.27 " />
<rect class="l2" x="485.85" y="588.73" width="6.76" height="2.9" rx="0.0" />
<rect class="l2" x="521.58" y="588.73" width="10.62" height="3.86" rx="0.0" />
<rect class="l2" x="546.69" y="512.44" width="8.31" height="13.52" rx="0.0" />
<path class="l2" d="M428.86 596.85 H463.63 M428.86 599.94 H463.63 " />
<circle class="l2" cx="426.93" cy="598.01" r="0.97" />
</g>
<rect class="l2" x="488.21" y="261.5" width="21.83" height="22.65" rx="2.73" />
<rect class="l2" x="512.77" y="269.69" width="16.92" height="15.28" rx="2.73" />
<rect class="l2" x="488.21" y="288.24" width="21.83" height="21.28" rx="2.73" />
<rect class="l2" x="512.77" y="286.88" width="16.92" height="15.55" rx="2.73" />
<path class="l2" d="M486.85 284.97 H511.41 " />
<path class="l" d="M465.3 597.5V607Q465 612 462 617L425 688.5M462 607Q461.5 611 459 616L421.5 688"/>
<path class="f" d="M440 649.5Q447 649 451 642L462 622" style="stroke-width:0.7"/><path class="fd" d="M440 649.5Q447 649 451 642L462 622" style="stroke-width:1.9;stroke-dasharray:1 6"/>
<g id="lower">
<path class="l" d="M132.5 560V795Q132.5 835 172 835H360Q421.2 835 421.2 772V694"/>
<path class="l" d="M135.5 560V795Q135.5 832.5 172 832.5H360Q418 832.5 418 772V697"/>
<path class="f" d="M143.6 450V811Q143.6 825.5 158 825.5H354.5V649.5H440" style="stroke-width:0.7"/><path class="fd" d="M143.6 450V811Q143.6 825.5 158 825.5H354.5V649.5H440" style="stroke-width:1.9;stroke-dasharray:1 6"/>
<path class="f" d="M153.6 416.4V450H143.6" style="stroke-width:0.7"/><path class="fd" d="M153.6 416.4V450H143.6" style="stroke-width:1.9;stroke-dasharray:1 6"/>
<path class="f" d="M153.6 416.4H172.7V505" style="stroke-width:0.7"/><path class="fd" d="M153.6 416.4H172.7V505" style="stroke-width:1.9;stroke-dasharray:1 6"/>
<path class="f" d="M170.5 416.4V797H327V622.5" style="stroke-width:0.7"/><path class="fd" d="M170.5 416.4V797H327V622.5" style="stroke-width:1.9;stroke-dasharray:1 6"/>
<path class="f" d="M415.5 649.5V693.7" style="stroke-width:0.7"/><path class="fd" d="M415.5 649.5V693.7" style="stroke-width:1.9;stroke-dasharray:1 6"/>
<path class="l" d="M175.5 440V783Q175.5 791.3 184 791.3H313Q323.7 791.3 323.7 781V630"/>
<path class="l" d="M177.6 640V781Q177.6 789.3 186 789.3H311Q321.3 789.3 321.3 779V630"/>
<path class="f" d="M300 621.2H430.5V531.2H458.7V597.5" style="stroke-width:0.7"/><path class="fd" d="M300 621.2H430.5V531.2H458.7V597.5" style="stroke-width:1.9;stroke-dasharray:1 6"/>
<path class="f" d="M300 593H325V613.7H390V581.2H430" style="stroke-width:0.7"/><path class="fd" d="M300 593H325V613.7H390V581.2H430" style="stroke-width:1.9;stroke-dasharray:1 6"/>
<path class="l" d="M427.5 597.5H465M427.5 600.5H465"/>
<path class="l" d="M463.7 531Q465.3 532 465.3 536V597.5"/>
<path class="th" d="M176 770.2H428.7"/>
<path class="l2" d="M185 770.2H192M272 770.2H279M330 770.2H336M340 770.2H352M392 770.2H403"/>
<path class="l" d="M425 688.7H542Q575 688 596 668"/>
<path class="l" d="M425 700.2H537M430 695H470M505 693.5H537"/>
<path class="l2" d="M432 697H443M531 697H541" style="stroke-width:2.4"/>
<rect class="l" x="429" y="705" width="106" height="58.7" rx="4.0"/>
<rect class="l" x="430.6" y="706.6" width="102.8" height="55.5" rx="3.04"/>
<rect class="l" x="432.2" y="708.2" width="99.6" height="52.300000000000004" rx="2.08"/>
<rect class="l" x="370.5" y="714.5" width="42" height="35.5" rx="3.5"/>
<rect class="l" x="372.0" y="716.0" width="39.0" height="32.5" rx="2.6"/>
<rect class="l" x="373.5" y="717.5" width="36" height="29.5" rx="1.7000000000000002"/>
<rect class="l" x="357" y="743.2" width="11" height="6.8"/>
<path class="l" d="M357.5 694V668Q357.5 660.5 365 660.5H394Q401.5 660.5 401.5 668V684Q401.5 690 407 690H414"/>
<path class="l" d="M361 686V670Q361 664 367 664H392Q398 664 398 670V686"/>
<rect class="b" x="377.7" y="671" width="11.3" height="18.5"/><rect class="bk" x="389" y="672" width="2.6" height="3.5"/><rect class="bk" x="389" y="678" width="2.6" height="3.5"/><rect class="l2" x="369.5" y="665" width="6.5" height="6.5"/><rect class="l" x="362.5" y="684" width="6" height="3"/>
<path class="l" d="M373 693.5H403V698.5H373ZM380 695H398" style="stroke-width:1.1"/>
<path class="l" d="M357.5 694Q361 698 360 702V712H357V722H361"/>
<path class="l" d="M414 692V750M412 692Q412 693.5 414 692"/>
<path class="l" d="M423 705Q423 701 427 701M426 705Q426 703 428 703M423 705V712"/>
</g>
<g id="hatch">
<path d="M542.5 530H606.2V610C606.2 655 585 688.7 548 688.7H542.5Z" fill="url(#hat)" stroke="#000" stroke-width="0.7"/>
<path d="M471.2 605.3H537V686.8H431L471.2 624Z" fill="url(#hat)" stroke="#000" stroke-width="2.7" stroke-linejoin="miter"/>
<path class="th" d="M480.5 686V670H536"/>
<path class="l" d="M540.6 505V688M538.9 603V505" style="stroke-width:0.6"/>
<rect class="l" x="547.5" y="613" width="7" height="22" style="fill:none"/>
<rect class="l" x="552.5" y="642" width="6" height="30" style="fill:none"/>
<path class="l" d="M543 598H580M552 601H577M543 595.5H562"/>
<path d="M242.3 634.3H279.7V639H286.5L294.7 648V724.2H261.3V695H242.3Z" fill="url(#xhat)" stroke="#000" stroke-width="0.7"/>
<path class="l" d="M279.7 639V685M275 685.4H294.7"/>
</g>
<g id="img3d">
<defs>
<linearGradient id="sky" x1="0" y1="0" x2="0" y2="1"><stop offset="0" stop-color="#727272"/><stop offset="0.55" stop-color="#6f6f6f"/><stop offset="1" stop-color="#646464"/></linearGradient>
<filter id="blur" x="-5%" y="-5%" width="110%" height="110%"><feGaussianBlur stdDeviation="2.2"/></filter>
<clipPath id="imgclip"><rect x="22" y="30" width="756" height="450"/></clipPath>
</defs>
<g transform="translate(575 670) scale(0.23721)">
<rect x="22" y="30" width="756" height="450" fill="url(#sky)"/>
<g clip-path="url(#imgclip)"><g filter="url(#blur)">
<!-- ground -->
<path d="M22 330C200 330 500 270 778 215V480H22Z" fill="#6c6c6c"/>
<path d="M22 385C150 420 330 420 470 380C580 345 690 335 778 330V350C690 352 600 365 480 400C330 440 150 440 22 410Z" fill="#8b8b8b"/>
<path d="M22 415C150 445 330 445 480 403C600 368 690 355 778 352V480H22Z" fill="#676767"/>
<path d="M660 215L778 245V262L660 232Z" fill="#8a8a8a"/>
<path d="M640 185L778 215V300L640 262Z" fill="#6a6a6a"/>
<ellipse cx="585" cy="322" rx="138" ry="29" fill="#5f5f5f"/>
<ellipse cx="418" cy="360" rx="74" ry="24" fill="#5e5e5e"/>
<ellipse cx="120" cy="385" rx="105" ry="27" fill="#5c5c5c"/>
<ellipse cx="300" cy="385" rx="45" ry="14" fill="#5e5e5e"/>
<path d="M60 452H778V478H60Z" fill="#828282"/>
<path d="M22 440H200V478H22Z" fill="#747474"/>
<!-- main hall -->
<path d="M290 128L340 140V205L290 188Z" fill="#262626"/>
<path d="M232 112L290 128V160L232 150Z" fill="#2e2e2e"/>
<path d="M340 140L520 122V215L340 226Z" fill="#6b6b6b"/>
<path d="M228 105C290 88 380 82 412 88L520 118L440 121L340 140Z" fill="#c9c9c9"/>
<circle cx="432" cy="173" r="6" fill="#222"/>
<!-- right tower -->
<path d="M530 128L560 136V196L530 190Z" fill="#1f1f1f"/>
<path d="M560 136L612 130V190L560 196Z" fill="#6d6d6d"/>
<path d="M530 125L602 120L612 130L560 137Z" fill="#cfcfcf"/>
<!-- right lower -->
<path d="M518 200L548 211V287L518 280Z" fill="#262626"/>
<path d="M548 211L665 196V272L548 290Z" fill="#6f6f6f"/>
<path d="M518 196L625 178L665 192L550 211Z" fill="#c2c2c2"/>
<!-- small right -->
<path d="M583 240L606 246V292L583 285Z" fill="#222"/>
<path d="M606 246L655 239V294L606 297Z" fill="#7a7a7a"/>
<path d="M583 236L648 228L657 238L606 246Z" fill="#c8c8c8"/>
<!-- middle small -->
<path d="M444 218L458 229V297L444 292Z" fill="#2a2a2a"/>
<path d="M458 229L510 221V296L458 301Z" fill="#6c6c6c"/>
<path d="M444 215L503 209L511 220L458 229Z" fill="#cdcdcd"/>
<path d="M420 298L475 294V304L420 308Z" fill="#9a9a9a"/>
<path d="M498 287L540 283V295L498 299Z" fill="#999"/>
<!-- left complex -->
<rect x="177" y="112" width="15" height="36" fill="#a8a8a8"/>
<path d="M208 137L285 130V160L208 168Z" fill="#7c7c7c"/>
<path d="M208 134L280 127L288 133L214 141Z" fill="#bcbcbc"/>
<path d="M105 150L200 141L212 182L112 168Z" fill="#bdbdbd"/>
<path d="M105 150L112 168V190L105 175Z" fill="#555"/>
<path d="M58 180L112 168L195 190V203L70 203Z" fill="#c4c4c4"/>
<path d="M60 202L150 195L160 215L72 226Z" fill="#a9a9a9"/>
<path d="M318 200L360 210L365 222L320 225Z" fill="#c4c4c4"/>
<path d="M222 166L246 171V248L222 236Z" fill="#585858"/>
<path d="M246 171L318 164V240L246 248Z" fill="#9c9c9c"/>
<path d="M234 160L310 155L318 164L246 171Z" fill="#cacaca"/>
<rect x="222" y="204" width="10" height="24" fill="#2a2a2a"/>
<path d="M35 226L120 258V362L35 322Z" fill="#1e1e1e"/>
<path d="M120 258L235 236V345L120 364Z" fill="#707070"/>
<path d="M35 222L190 210L237 233L120 258Z" fill="#c3c3c3"/>
<!-- front building -->
<path d="M185 266L240 296V382L185 352Z" fill="#242424"/>
<path d="M160 300L186 268V352L160 352Z" fill="#4a4a4a"/>
<path d="M240 296L420 268V352L240 382Z" fill="#6a6a6a"/>
<path d="M185 262L378 235L420 266L240 296Z" fill="#c6c6c6"/>
<circle cx="258" cy="311" r="6" fill="#262626"/><circle cx="295" cy="304" r="6" fill="#262626"/>
<path d="M312 332L336 329V366L312 370Z" fill="#7b7b7b"/>
<rect x="244" y="350" width="20" height="30" fill="#8d8d8d"/>
<rect x="385" y="322" width="24" height="30" fill="#3a3a3a"/>
<ellipse cx="396" cy="324" rx="12" ry="5" fill="#c0c0c0"/>
<path d="M395 350L460 378L455 384L392 356Z" fill="#b0b0b0"/>
<rect x="130" y="345" width="8" height="22" fill="#9a9a9a"/>
</g></g>
<rect x="22" y="30" width="756" height="450" fill="none" stroke="#1c1c1c" stroke-width="7"/>
</g>
</g>
<g class="l">
<rect x="545.7" y="264.4" width="36" height="43.6" stroke-width="1"/>
<rect x="550.3" y="267.8" width="28.3" height="6.6"/>
<rect x="550.3" y="277.6" width="28.3" height="6.6"/>
<rect x="550.3" y="287.6" width="28.3" height="6.6"/>
<rect x="550.3" y="297.6" width="28.3" height="6.6"/>
</g>

<g id="idaho">
<path class="ol" d="M145 10.5H164.5V38.5L171 52.5L177.5 60L193.5 76L196.7 81L194 92.5L195.7 100L195 107.5L201 107L207.5 115L215 130L220 137.5L222.5 143.5L225 140L235 137.7L247.5 136L252.5 132L257.5 134L260.7 139V207H139.5V157.5L142.5 151L137.5 142.5L145 120L151 107.5L150 101L143.7 89Z"/>
<text class="t" x="154" y="147" font-size="18" textLength="60" lengthAdjust="spacingAndGlyphs">IDAHO</text>
<line x1="150" y1="149.7" x2="213" y2="149.7" stroke="#222" stroke-width="0.9"/>
<circle cx="237" cy="162.2" r="10.4" fill="#fff" style="stroke:#000;stroke-width:0.9"/>
<path d="M237.5 153.5L236.5 158.5L233 161L230.5 164.5V169H241L241.2 167L244.5 165.5L245 160L242.5 157L242 154" fill="none" stroke="#000" stroke-width="0.8"/>
<text class="t" x="224" y="181.7" font-size="10.6" textLength="27.5" lengthAdjust="spacingAndGlyphs">INEEL</text>
</g>
<g id="ineel">
<path class="ol" d="M474 74.4H509.6V90.6L513 93.1L518.1 95.7V102.5L515.6 103.4V111.9H527.5L533.5 115.8L524.1 115.3L525 118.7L527.5 119.5L528.4 124.7L530.9 125.5L531.4 128.9H537.7V173.2L535.2 174.1V177.5L532.6 178.3L531.8 181.2L507 182.6V206.2H412.9V168H417.5L425 163.5L432 158.7L438.7 152.6L441.2 147.4L442.4 136.2H456.2V130H466.8V104.3H474Z" style="stroke-width:2.1"/>
<rect x="534" y="154.2" width="8" height="12" fill="#fff"/>
</g>
<!-- ARROW 1 -->
<path class="bk" d="M247.5 160L260 155C270 150.5 280 146 290 142C310 134.5 330 130.3 350 128.6C370 127.3 400 128.2 420.6 131.2L426.4 118.1L440.5 146.8C431 151 420 156 410.2 161.4L415.6 149.3C400 144.5 375 141.2 350 141.8C330 143 310 146 290 150.5C275 154 262 157.5 247.5 160.8Z"/>
<!-- INEEL labels -->
<circle cx="451.6" cy="177.6" r="3.6" fill="#fff" stroke="#000" stroke-width="0.8"/>
<circle cx="451.6" cy="177.6" r="2" fill="#000"/>
<path class="th" d="M454 175L466 162.5H472"/>
<text class="t" x="474" y="162.5" font-size="8.6" textLength="152" lengthAdjust="spacingAndGlyphs">INTEC/IDAHO SPENT FUEL FACILITY</text>
<line x1="472" y1="164.3" x2="629" y2="164.3" stroke="#333" stroke-width="0.9"/>
<text class="t" x="488" y="220.5" font-size="13" textLength="40" lengthAdjust="spacingAndGlyphs">INEEL</text>
<line x1="487" y1="222.6" x2="529" y2="222.6" stroke="#222" stroke-width="0.9"/>
<!-- north arrow -->
<g id="north">
<path class="bk" d="M574.6 192L575.5 192L579 208.8L576.7 207.3L574.6 205.3Z"/>
<path d="M575 205V228" stroke="#888" stroke-width="0.9"/>
<path d="M572.4 220.6L573.2 215.3L577.1 219.5L577.8 214.8" fill="none" stroke="#000" stroke-width="1.2"/>
<path class="bk" d="M574.6 227L579 230.4V247.2L574.6 243.5Z"/>
</g>

<!-- ARROW 3 -->
<path class="bk" d="M490.5 688.7C491.5 697 493 704 495 710C497.5 718 501 725 505 730C510 737 517 743 525 747.5C531 751 538 753.5 545 755C549.5 756 554 757 558.7 757.5L558.7 771.5L577.5 748.7L554.2 729.2L555 743.7C549 742.8 543 741.5 537.5 740C531 737.5 525 734 520 730C512 724 506 717 502.5 710C499 703 496.5 696 495.3 688.7Z"/>
<!-- labels -->
<text class="t" x="57.7" y="443.8" font-size="9.3" textLength="61" lengthAdjust="spacingAndGlyphs">TMI&#8211;2 ISFSI</text>
<text class="t" x="46.7" y="480.7" font-size="9.6" textLength="72" lengthAdjust="spacingAndGlyphs">EXISTING SNF</text>
<text class="t" x="46.7" y="488.7" font-size="9.6" textLength="45" lengthAdjust="spacingAndGlyphs">STORAGE</text>
<text class="t" x="46.7" y="496.7" font-size="9.6" textLength="42" lengthAdjust="spacingAndGlyphs">FACILITY</text>
<path class="th" d="M119 440.5H135.5L288 599" style="stroke:#000;stroke-width:0.9"/>
<path class="bk" d="M289.5 600.5L281.2 594.5L283.8 592Z"/>
<path class="th" d="M119 477.5H129.6L270 632M129.6 477.5L218 755.5" style="stroke:#000;stroke-width:0.9"/>
<path class="bk" d="M271 633L263 626.8L265.6 624.4Z"/>
<path class="bk" d="M218.6 757.2L214 748L216.9 747Z"/>
<text class="t" x="642.5" y="544.3" font-size="11" textLength="70" lengthAdjust="spacingAndGlyphs">CONSTRUCTION</text>
<text class="t" x="642.5" y="557.2" font-size="11" textLength="46" lengthAdjust="spacingAndGlyphs">LAYDOWN</text>
<path class="th" d="M641.5 538.7H632.5L608 565.5" style="stroke:#000;stroke-width:0.9"/>
<path class="bk" d="M606.8 566.8L609.3 560L612.6 563Z"/>
<text class="t" x="266.5" y="852.6" font-size="13.6" textLength="41" lengthAdjust="spacingAndGlyphs">INTEC</text>
<line x1="264.5" y1="854.8" x2="308.5" y2="854.8" stroke="#222" stroke-width="0.9"/>
<text class="t" x="578" y="806.8" font-size="15" textLength="186" lengthAdjust="spacingAndGlyphs">IDAHO SPENT FUEL FACILITY</text>
<line x1="578" y1="809.6" x2="764" y2="809.6" stroke="#555" stroke-width="1"/>

<!-- ARROW 2 -->
<path class="bk" d="M452.6 179C458 187 464 196 469 206.4C474 218 479 231 482.8 242C488 256 493 270 496.4 283C500 296 503 310 504.6 323.7C507.5 337 510 351 511.4 364.6C513.5 378 515 392 515.6 410C516.4 425 516.4 440 516.2 455C516 470 515.8 480 515 494.6C514.3 505 513 516 511 526C509.5 535 507.5 544 505.8 552C504.5 558 503 563 501.8 567.8C495 567.5 487 565.2 480.4 562.5L503.1 604.8L546.3 573C540 572.2 533 571.5 527.5 571.2C529.5 565 531.5 558 533.2 552C535.5 543 538 535 539.7 526C541.5 516 543.3 505 544.2 494.6C545.3 482 545.7 468 545.8 455.4C545.8 445 545.7 430 545 416C544.3 408 543.5 400 542.4 392C541.5 383 540.2 374 538.7 364.6C536 351 533 337 529.1 323.7C525 309 520.5 295 515.5 282.8C511.5 271 507 260 501.9 250C496 238 490 226 482.8 214.6C477 205 471 196 463.7 187.3C460 184 456.5 181 452.6 179Z"/>

</svg>
</body></html>
